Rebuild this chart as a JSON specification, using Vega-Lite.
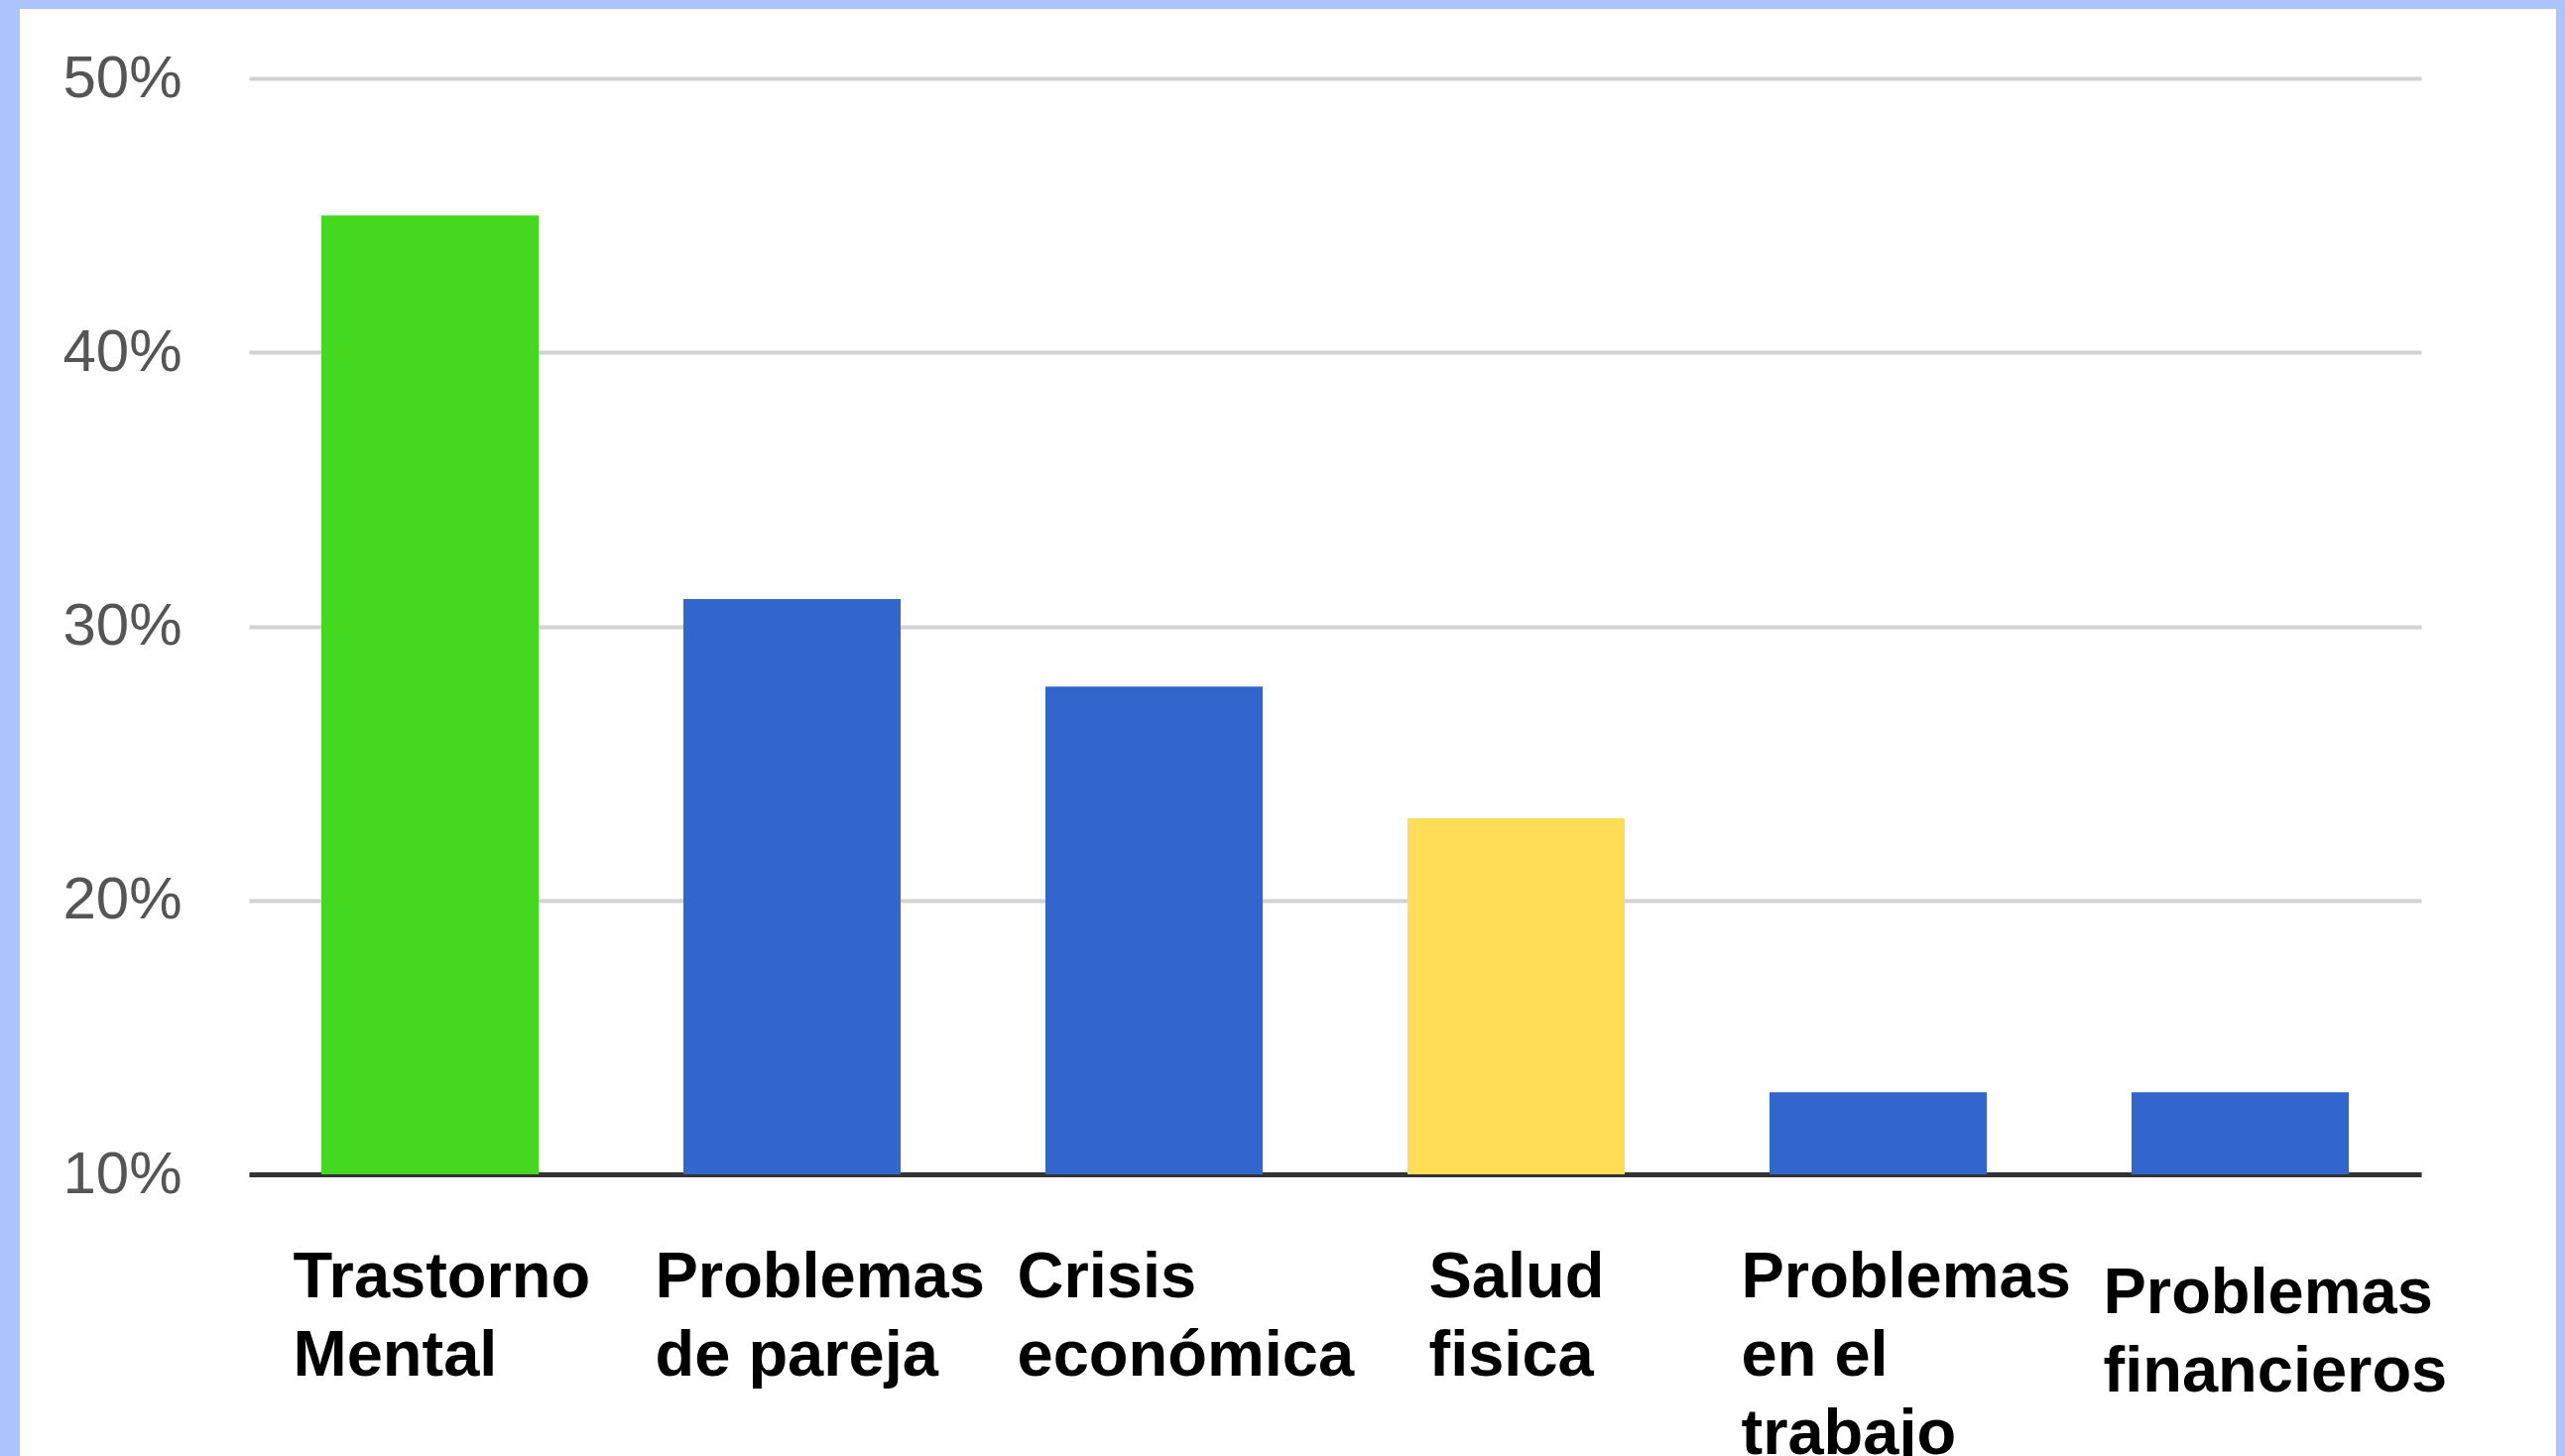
{
  "$schema": "https://vega.github.io/schema/vega-lite/v6.json",
  "autosize": "none",
  "width": 2557,
  "height": 1459,
  "padding": {"left": 20, "top": 9, "right": 9, "bottom": 0},
  "background": "#aec4fe",
  "config": {
    "view": {"fill": "white", "stroke": null}
  },
  "data": {
    "values": [
      {"causa": "Trastorno Mental", "pct": 45},
      {"causa": "Problemas de pareja", "pct": 31},
      {"causa": "Crisis económica", "pct": 27.8},
      {"causa": "Salud fisica", "pct": 23},
      {"causa": "Problemas en el trabajo", "pct": 13},
      {"causa": "Problemas financieros", "pct": 13}
    ]
  },
  "mark": {"type": "bar"},
  "encoding": {
    "x": {
      "field": "causa",
      "type": "nominal",
      "sort": null,
      "scale": {"range": [231, 2421], "paddingInner": 0.4, "paddingOuter": 0.2},
      "axis": {
        "title": null,
        "offset": -284,
        "labelAngle": 0,
        "labelAlign": "left",
        "labelBaseline": "top",
        "labelOffset": {"condition": {"test": "datum.value == 'Salud fisica'", "value": -88}, "value": -138},
        "labelPadding": {"condition": {"test": "datum.value == 'Problemas financieros'", "value": 88}, "value": 72},
        "labelFont": "Liberation Sans",
        "labelFontWeight": "bold",
        "labelFontSize": 65,
        "labelLineHeight": 79,
        "labelColor": "#000000",
        "labelLimit": 0,
        "labelOverlap": false,
        "labelExpr": "datum.value == 'Problemas de pareja' ? ['Problemas', 'de pareja'] : datum.value == 'Problemas en el trabajo' ? ['Problemas', 'en el', 'trabajo'] : split(datum.value, ' ')",
        "ticks": false,
        "domain": true,
        "domainColor": "#333333",
        "domainWidth": 5,
        "grid": false
      }
    },
    "y": {
      "field": "pct",
      "type": "quantitative",
      "scale": {"domain": [10, 50], "range": [1175, 70], "zero": false, "nice": false},
      "axis": {
        "title": null,
        "offset": -231,
        "values": [10, 20, 30, 40, 50],
        "labelExpr": "datum.value + '%'",
        "labelFont": "Liberation Sans",
        "labelFontSize": 60,
        "labelColor": "#555555",
        "labelPadding": 68,
        "ticks": false,
        "domain": false,
        "grid": true,
        "gridColor": "#d2d2d2",
        "gridWidth": 4
      }
    },
    "y2": {"datum": 10},
    "color": {
      "field": "causa",
      "type": "nominal",
      "legend": null,
      "scale": {
        "domain": ["Trastorno Mental", "Problemas de pareja", "Crisis económica", "Salud fisica", "Problemas en el trabajo", "Problemas financieros"],
        "range": ["#44d81e", "#3366cc", "#3366cc", "#ffdd57", "#3366cc", "#3366cc"]
      }
    }
  }
}
